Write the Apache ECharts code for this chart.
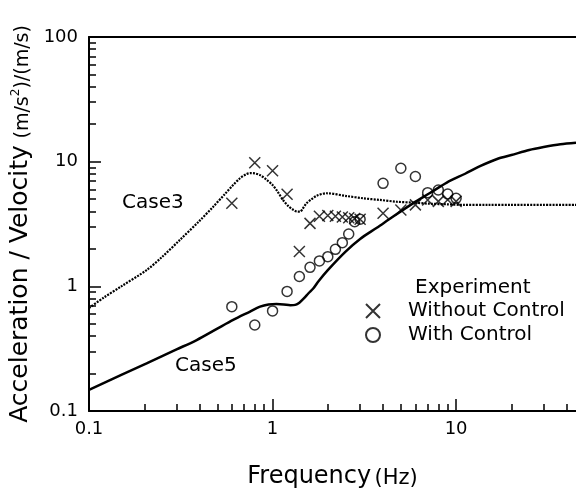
<!DOCTYPE html>
<html>
<head>
<meta charset="utf-8">
<script src="https://cdn.jsdelivr.net/npm/echarts@6/dist/echarts.min.js"></script>
<style>
html, body { margin: 0; padding: 0; background: #fff; }
#chart { width: 576px; height: 488px; }
</style>
</head>
<body>
<div id="chart"></div>
<script>
// Case3 (dotted) computed curve
var freqCase3 = [0.1, 0.12, 0.15, 0.206, 0.25, 0.313, 0.4, 0.475, 0.55, 0.61, 0.665, 0.72, 0.76, 0.8, 0.855, 0.93, 1.0, 1.07, 1.14, 1.22, 1.3, 1.36, 1.41, 1.46, 1.53, 1.63, 1.74, 1.97, 2.53, 3.13, 3.85, 4.75, 5.85, 7.2, 8.9, 11, 15, 20, 30, 45];
var valCase3 = [0.67, 0.81, 1.0, 1.35, 1.72, 2.36, 3.35, 4.35, 5.5, 6.5, 7.36, 7.95, 8.1, 8.05, 7.8, 7.13, 6.5, 5.7, 4.93, 4.4, 4.1, 3.98, 3.97, 4.2, 4.63, 5.0, 5.33, 5.58, 5.3, 5.08, 4.93, 4.77, 4.69, 4.6, 4.55, 4.5, 4.5, 4.5, 4.5, 4.5];

// Case5 (solid) computed curve
var freqCase5 = [0.1, 0.15, 0.206, 0.3, 0.386, 0.5, 0.61, 0.75, 0.855, 0.95, 1.05, 1.15, 1.25, 1.33, 1.4, 1.48, 1.57, 1.67, 1.78, 2.0, 2.5, 3.0, 3.7, 4.5, 5.85, 7.2, 8.9, 11.2, 13.5, 17, 20, 25, 30, 37, 45];
var valCase5 = [0.148, 0.195, 0.241, 0.312, 0.371, 0.458, 0.538, 0.625, 0.687, 0.715, 0.72, 0.715, 0.705, 0.71, 0.74, 0.8, 0.88, 0.965, 1.1, 1.35, 1.9, 2.4, 2.95, 3.6, 4.65, 5.6, 6.8, 8.0, 9.2, 10.6, 11.3, 12.4, 13.1, 13.8, 14.2];

// experiment, without control (x)
var freqNoCtrl = [0.6, 0.8, 1.0, 1.2, 1.4, 1.6, 1.8, 2.0, 2.2, 2.4, 2.6, 2.8, 3.0, 4, 5, 6, 7, 8, 9, 10];
var valNoCtrl = [4.64, 9.8, 8.47, 5.48, 1.9, 3.2, 3.65, 3.7, 3.65, 3.6, 3.55, 3.5, 3.45, 3.86, 4.1, 4.5, 4.93, 4.8, 4.95, 4.8];

// experiment, with control (o)
var freqCtrl = [0.6, 0.8, 1.0, 1.2, 1.4, 1.6, 1.8, 2.0, 2.2, 2.4, 2.6, 2.8, 3.0, 4, 5, 6, 7, 8, 9, 10];
var valCtrl = [0.687, 0.49, 0.635, 0.91, 1.2, 1.42, 1.6, 1.73, 1.98, 2.24, 2.63, 3.3, 3.45, 6.7, 8.85, 7.6, 5.64, 5.93, 5.5, 5.08];

// ticks and labels
var xLabels = [0.1, 1, 10];
var xMajorTicks = [1, 10];
var xMinorTicks = [0.2, 0.3, 0.4, 0.5, 0.6, 0.7, 0.8, 0.9, 2, 3, 4, 5, 6, 7, 8, 9, 20, 30, 40];
var yLabels = [0.1, 1, 10, 100];
var yMajorTicks = [1, 10];
var yMinorTicks = [0.2, 0.3, 0.4, 0.5, 0.6, 0.7, 0.8, 0.9, 2, 3, 4, 5, 6, 7, 8, 9, 20, 30, 40, 50, 60, 70, 80, 90];

var FONT = 'DejaVu Sans';

function pairs(xs, ys) {
	var out = [];
	for (var i = 0; i < xs.length; i++) {
		out.push([xs[i], ys[i]]);
	}
	return out;
}

function fmt(v) {
	return v < 1 ? v.toFixed(1) : String(Math.round(v));
}

var gridBox = { left: 89, top: 37, right: 0, bottom: 77, containLabel: false, outerBoundsMode: 'none' };

var chart = echarts.init(document.getElementById('chart'));

option = {
	backgroundColor: '#fff',
	animation: false,
	grid: [ gridBox, gridBox ],
	xAxis: [ {
		gridIndex: 0,
		type: 'log',
		position: 'bottom',
		min: 0.1,
		max: 45,
		axisLine: { show: true, lineStyle: { color: '#000', width: 2 } },
		axisTick: { show: true, inside: true, length: 12, customValues: xMajorTicks, lineStyle: { color: '#000', width: 1.5 } },
		axisLabel: { customValues: xLabels, formatter: fmt, color: '#000', fontFamily: FONT, fontSize: 18, margin: 9 },
		splitLine: { show: false },
		name: '{a|Frequency} {b|(Hz)}',
		nameLocation: 'middle',
		nameGap: 54,
		nameTextStyle: {
			rich: {
				a: { fontFamily: FONT, fontSize: 24, color: '#000', verticalAlign: 'bottom' },
				b: { fontFamily: FONT, fontSize: 21, color: '#000', verticalAlign: 'bottom' }
			}
		}
	}, {
		// top frame line
		gridIndex: 0,
		type: 'log',
		position: 'top',
		min: 0.1,
		max: 45,
		axisLine: { show: true, lineStyle: { color: '#000', width: 2 } },
		axisTick: { show: false },
		axisLabel: { show: false },
		splitLine: { show: false }
	}, {
		// minor ticks
		gridIndex: 1,
		type: 'log',
		position: 'bottom',
		min: 0.1,
		max: 45,
		axisLine: { show: false },
		axisTick: { show: true, inside: true, length: 7, customValues: xMinorTicks, lineStyle: { color: '#000', width: 1.5 } },
		axisLabel: { show: false },
		splitLine: { show: false }
	} ],
	yAxis: [ {
		gridIndex: 0,
		type: 'log',
		position: 'left',
		min: 0.1,
		max: 100,
		axisLine: { show: true, lineStyle: { color: '#000', width: 2 } },
		axisTick: { show: true, inside: true, length: 12, customValues: yMajorTicks, lineStyle: { color: '#000', width: 1.5 } },
		axisLabel: { customValues: yLabels, formatter: fmt, color: '#000', fontFamily: FONT, fontSize: 18, margin: 11 },
		splitLine: { show: false },
		name: '{a|Acceleration / Velocity}  {b|(m/s}{s|2}{b|)/(m/s)}',
		nameLocation: 'middle',
		nameRotate: 90,
		nameGap: 47,
		nameTextStyle: {
			rich: {
				a: { fontFamily: FONT, fontSize: 25, color: '#000', verticalAlign: 'bottom' },
				b: { fontFamily: FONT, fontSize: 19, color: '#000', verticalAlign: 'bottom' },
				s: { fontFamily: FONT, fontSize: 12, color: '#000', verticalAlign: 'top', padding: [2, 0, 0, 0] }
			}
		}
	}, {
		gridIndex: 1,
		type: 'log',
		position: 'left',
		min: 0.1,
		max: 100,
		axisLine: { show: false },
		axisTick: { show: true, inside: true, length: 7, customValues: yMinorTicks, lineStyle: { color: '#000', width: 1.5 } },
		axisLabel: { show: false },
		splitLine: { show: false }
	} ],
	legend: {
		orient: 'vertical',
		left: 365,
		top: 301,
		padding: 0,
		itemWidth: 14,
		itemHeight: 14,
		itemGap: 4,
		textStyle: { fontFamily: FONT, fontSize: 20, color: '#000', padding: [0, 0, 0, 23] },
		data: [ 'Without Control', 'With Control' ]
	},
	graphic: [
		{ type: 'text', left: 122, top: 193, style: { text: 'Case3', fontFamily: FONT, fontSize: 20, fill: '#000' } },
		{ type: 'text', left: 175, top: 356, style: { text: 'Case5', fontFamily: FONT, fontSize: 20, fill: '#000' } },
		{ type: 'text', left: 415, top: 278, style: { text: 'Experiment', fontFamily: FONT, fontSize: 20, fill: '#000' } }
	],
	series: [ {
		name: 'Case3',
		type: 'line',
		xAxisIndex: 0,
		yAxisIndex: 0,
		data: pairs(freqCase3, valCase3),
		smooth: 0.3,
		showSymbol: false,
		lineStyle: { color: '#000', width: 2.2, type: [2, 1.2] },
		z: 2
	}, {
		name: 'Case5',
		type: 'line',
		xAxisIndex: 0,
		yAxisIndex: 0,
		data: pairs(freqCase5, valCase5),
		smooth: 0.3,
		showSymbol: false,
		lineStyle: { color: '#000', width: 2.5 },
		z: 2
	}, {
		name: 'Without Control',
		type: 'scatter',
		xAxisIndex: 0,
		yAxisIndex: 0,
		data: pairs(freqNoCtrl, valNoCtrl),
		symbol: 'path://M0,0L10,10M0,10L10,0',
		symbolSize: 11,
		itemStyle: { color: 'rgba(0,0,0,0)', borderColor: '#000', borderWidth: 1.5 },
		z: 3
	}, {
		name: 'With Control',
		type: 'scatter',
		xAxisIndex: 0,
		yAxisIndex: 0,
		data: pairs(freqCtrl, valCtrl),
		symbol: 'circle',
		symbolSize: 10,
		itemStyle: { color: 'rgba(0,0,0,0)', borderColor: '#000', borderWidth: 1.5 },
		z: 3
	} ]
};
chart.setOption(option);
</script>
</body>
</html>
